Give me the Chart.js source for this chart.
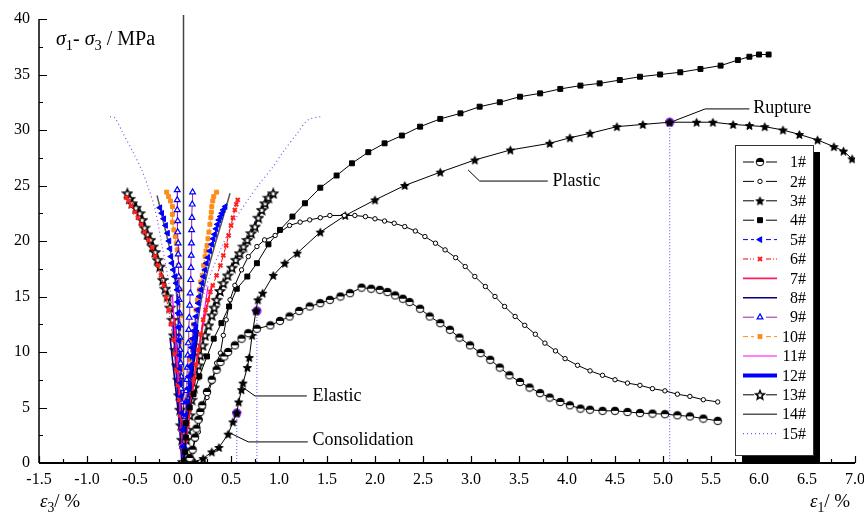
<!DOCTYPE html>
<html>
<head>
<meta charset="utf-8">
<script src="https://cdn.jsdelivr.net/npm/chart.js@4.4.0/dist/chart.umd.min.js"></script>
<style>
  html, body { margin: 0; padding: 0; background: #fff; }
</style>
</head>
<body>
<canvas id="chart" width="864" height="519"></canvas>
<script>
// stress-strain curves, eps3 on the left (negative), eps1 on the right

const X_MIN = -1.5, X_MAX = 7.0, X_STEP = 0.5;
const Y_MIN = 0, Y_MAX = 40, Y_STEP = 5;
const labels = ['1#','2#','3#','4#','5#','6#','7#','8#','9#','10#','11#','12#','13#','14#','15#'];

// 1# - 4#: axial branch only
const s1 = [[0.03,0.1],[0.07,0.45],[0.1,1.2],[0.125,2.3],[0.14,3.1],[0.16,3.9],[0.18,4.6],[0.2,5.2],[0.25,6.4],[0.3,7.5],[0.35,8.4],[0.39,9.1],[0.43,9.6],[0.47,10.0],[0.54,10.6],[0.61,11.2],[0.68,11.7],[0.77,12.1],[0.91,12.4],[1.01,12.8],[1.11,13.2],[1.21,13.7],[1.32,14.1],[1.43,14.4],[1.53,14.7],[1.64,15.0],[1.74,15.3],[1.86,15.8],[1.96,15.7],[2.05,15.6],[2.13,15.4],[2.21,15.1],[2.29,14.8],[2.36,14.5],[2.47,13.9],[2.57,13.2],[2.68,12.6],[2.78,12.0],[2.88,11.3],[2.99,10.6],[3.1,9.9],[3.2,9.3],[3.3,8.6],[3.4,7.9],[3.51,7.3],[3.61,6.8],[3.72,6.3],[3.82,5.9],[3.93,5.5],[4.03,5.2],[4.14,4.9],[4.24,4.8],[4.37,4.7],[4.5,4.7],[4.63,4.6],[4.76,4.5],[4.89,4.45],[5.02,4.4],[5.15,4.3],[5.28,4.2],[5.42,4.0],[5.57,3.8]];
const s2 = [[0.03,0.3],[0.1,1.0],[0.125,2.1],[0.16,2.8],[0.18,3.9],[0.21,5.0],[0.25,5.9],[0.3,7.3],[0.35,9.0],[0.39,9.9],[0.42,11.5],[0.45,12.9],[0.49,14.7],[0.54,16.0],[0.61,17.4],[0.68,18.6],[0.77,19.5],[0.85,20.1],[0.96,20.5],[1.11,21.4],[1.22,21.7],[1.32,21.9],[1.43,22.1],[1.53,22.3],[1.68,22.3],[1.79,22.3],[1.9,22.2],[2.0,22.0],[2.1,21.8],[2.2,21.6],[2.31,21.3],[2.42,20.9],[2.52,20.4],[2.63,19.8],[2.73,19.2],[2.84,18.5],[2.94,17.7],[3.04,16.8],[3.15,15.9],[3.25,15.0],[3.35,14.1],[3.46,13.2],[3.56,12.4],[3.67,11.6],[3.77,10.8],[3.88,10.1],[3.98,9.4],[4.11,8.8],[4.24,8.3],[4.37,7.9],[4.5,7.5],[4.63,7.2],[4.76,7.0],[4.89,6.7],[5.02,6.5],[5.15,6.2],[5.28,6.0],[5.42,5.7],[5.57,5.5]];
const s3 = [[0.12,0.1],[0.21,0.4],[0.3,1.0],[0.375,1.4],[0.47,2.6],[0.52,3.7],[0.56,4.5],[0.58,5.5],[0.61,6.6],[0.625,7.2],[0.67,8.6],[0.69,9.5],[0.72,11.5],[0.76,13.7],[0.78,14.7],[0.83,15.3],[0.94,16.9],[1.06,18.0],[1.19,18.9],[1.43,20.8],[1.69,22.3],[2.0,23.7],[2.31,25.0],[2.68,26.2],[3.04,27.3],[3.41,28.2],[3.82,28.8],[4.03,29.3],[4.24,29.7],[4.52,30.3],[4.79,30.5],[5.07,30.7],[5.35,30.7],[5.52,30.7],[5.73,30.5],[5.9,30.4],[6.06,30.3],[6.25,30.0],[6.42,29.6],[6.61,29.1],[6.78,28.5],[6.88,28.1],[6.97,27.4]];
const s4 = [[0.01,0.2],[0.02,1.0],[0.03,2.3],[0.03,3.6],[0.07,5.0],[0.11,6.2],[0.17,7.8],[0.25,9.6],[0.32,11.2],[0.4,12.6],[0.48,14.1],[0.56,15.7],[0.67,16.8],[0.77,18.0],[0.89,19.7],[1.01,21.0],[1.14,22.2],[1.27,23.4],[1.43,24.8],[1.6,25.9],[1.76,27.0],[1.93,28.0],[2.1,28.8],[2.28,29.5],[2.47,30.3],[2.68,31.0],[2.89,31.5],[3.09,32.1],[3.3,32.5],[3.51,33.0],[3.72,33.3],[3.93,33.7],[4.14,34.0],[4.34,34.2],[4.55,34.5],[4.76,34.8],[4.97,35.0],[5.18,35.2],[5.39,35.5],[5.6,35.8],[5.78,36.3],[5.9,36.6],[6.0,36.8],[6.1,36.8]];

// 5# - 15#: lateral branch (top -> origin) and axial branch (origin -> top)
const s5L = [[-0.24,23.0],[-0.22,22.5],[-0.2,22.0],[-0.18,21.4],[-0.16,20.7],[-0.145,20.0],[-0.135,19.3],[-0.125,18.6],[-0.115,18.0],[-0.1,17.4],[-0.085,16.8],[-0.07,16.2],[-0.06,15.6],[-0.055,14.5],[-0.05,13.5],[-0.045,12.2],[-0.04,11.0],[-0.035,9.7],[-0.03,8.5],[-0.025,7.2],[-0.02,6.0],[-0.015,4.5],[-0.01,3.0],[-0.005,1.5],[0,0]];
const s5R = [[0.01,1.5],[0.02,3.0],[0.03,4.3],[0.04,5.5],[0.05,6.7],[0.06,7.8],[0.07,8.7],[0.08,9.6],[0.09,10.4],[0.1,11.2],[0.11,11.9],[0.12,12.5],[0.135,13.2],[0.15,13.8],[0.16,14.4],[0.17,15.0],[0.185,15.6],[0.2,16.2],[0.215,16.8],[0.23,17.4],[0.245,18.0],[0.26,18.5],[0.28,19.1],[0.3,19.7],[0.315,20.2],[0.33,20.6],[0.345,21.1],[0.36,21.5],[0.375,21.9],[0.39,22.2],[0.405,22.5],[0.42,22.8],[0.44,23.1]];
const s6L = [[-0.59,23.9],[-0.565,23.6],[-0.54,23.2],[-0.5,22.6],[-0.47,22.1],[-0.435,21.5],[-0.4,20.8],[-0.36,20.1],[-0.32,19.4],[-0.29,18.6],[-0.26,17.8],[-0.23,16.9],[-0.2,16.0],[-0.175,14.9],[-0.15,13.8],[-0.125,12.5],[-0.1,11.1],[-0.085,9.8],[-0.07,8.4],[-0.055,7.0],[-0.04,5.7],[-0.03,4.3],[-0.02,3.0],[-0.01,1.5],[0,0]];
const s6R = [[0.015,1.0],[0.03,2.1],[0.05,3.5],[0.07,4.8],[0.09,6.2],[0.11,7.5],[0.135,8.9],[0.16,10.2],[0.185,11.6],[0.21,12.9],[0.235,13.8],[0.26,14.7],[0.285,15.4],[0.31,16.0],[0.35,16.9],[0.39,17.8],[0.42,18.7],[0.45,19.6],[0.475,20.5],[0.5,21.4],[0.52,22.1],[0.54,22.8],[0.555,23.3],[0.57,23.7]];
const s7L = [[-0.09,13.0],[-0.05,8.0],[-0.02,3.5],[0,0]];
const s7R = [[0.06,4.0],[0.13,8.5],[0.21,12.5],[0.3,16.0]];
const s8L = [[-0.135,11.3],[-0.08,7.0],[-0.03,3.0],[0,0]];
const s8R = [[0.05,4.0],[0.1,8.0],[0.16,12.0]];
const s9L = [[-0.06,24.6],[-0.06,23.7],[-0.06,22.8],[-0.055,21.8],[-0.055,20.8],[-0.05,19.8],[-0.05,18.8],[-0.045,17.8],[-0.045,16.8],[-0.04,15.7],[-0.04,14.7],[-0.035,13.5],[-0.035,12.4],[-0.03,11.3],[-0.03,10.2],[-0.025,9.0],[-0.02,7.8],[-0.02,6.7],[-0.015,5.5],[-0.01,4.2],[-0.01,3.0],[-0.005,1.5],[0,0]];
const s9R = [[0.01,1.5],[0.02,3.0],[0.025,4.2],[0.03,5.5],[0.035,6.5],[0.04,7.5],[0.045,8.6],[0.05,9.7],[0.055,10.8],[0.06,12.0],[0.065,13.1],[0.07,14.2],[0.075,15.3],[0.08,16.5],[0.083,17.6],[0.086,18.7],[0.088,19.8],[0.09,21.0],[0.093,22.1],[0.096,23.3],[0.1,24.4]];
const s10L = [[-0.17,24.4],[-0.15,24.0],[-0.13,23.6],[-0.11,23.1],[-0.11,22.4],[-0.11,21.7],[-0.095,21.0],[-0.08,20.4],[-0.07,19.8],[-0.06,19.2],[-0.05,17.8],[-0.04,16.7],[-0.03,15.6],[-0.025,13.3],[-0.02,11.1],[-0.015,8.4],[-0.01,5.7],[-0.005,2.8],[0,0]];
const s10R = [[0.01,2.0],[0.02,3.9],[0.035,5.7],[0.05,7.5],[0.07,9.3],[0.09,11.1],[0.11,12.5],[0.135,13.8],[0.15,14.7],[0.17,15.6],[0.185,16.3],[0.2,16.9],[0.215,17.8],[0.23,18.6],[0.24,19.1],[0.25,19.6],[0.26,20.2],[0.27,20.8],[0.28,21.5],[0.29,22.1],[0.295,22.6],[0.3,23.1],[0.31,23.6],[0.32,24.0],[0.35,24.4]];
const s11L = [[-0.11,15.1],[-0.07,10.0],[-0.03,4.5],[0,0]];
const s11R = [[0.07,4.5],[0.15,9.5],[0.26,15.9]];
const s12L = [[-0.09,12.5],[-0.05,7.0],[-0.02,3.0],[0,0]];
const s12R = [[0.04,4.0],[0.09,8.5],[0.14,12.5]];
const s13L = [[-0.58,24.3],[-0.555,23.8],[-0.53,23.4],[-0.49,23.0],[-0.45,22.5],[-0.425,21.9],[-0.4,21.2],[-0.37,20.6],[-0.34,20.1],[-0.315,19.5],[-0.29,19.0],[-0.265,18.3],[-0.24,17.7],[-0.21,16.5],[-0.185,15.7],[-0.16,15.0],[-0.135,14.0],[-0.11,12.9],[-0.095,11.5],[-0.08,10.2],[-0.065,8.8],[-0.05,7.5],[-0.04,6.1],[-0.03,4.8],[-0.02,3.4],[-0.01,2.1],[0,0.1]];
const s13R = [[0.02,1.2],[0.035,2.1],[0.05,3.0],[0.07,4.3],[0.09,5.7],[0.115,6.8],[0.14,7.9],[0.16,8.8],[0.18,9.7],[0.205,10.6],[0.23,11.5],[0.265,12.4],[0.3,13.3],[0.325,14.0],[0.35,14.7],[0.385,15.5],[0.42,16.2],[0.465,16.9],[0.51,17.6],[0.55,18.3],[0.59,18.9],[0.63,19.5],[0.67,20.1],[0.71,20.7],[0.75,21.3],[0.785,22.1],[0.82,22.8],[0.855,23.4],[0.89,23.9],[0.94,24.3]];
const s14L = [[-0.27,24.1],[-0.22,22.3],[-0.17,20.5],[-0.11,18.3],[-0.07,15.6],[-0.04,11.1],[-0.02,5.7],[0,0]];
const s14R = [[0.03,3.9],[0.07,7.5],[0.125,11.1],[0.19,14.7],[0.26,17.4],[0.33,19.6],[0.41,21.9],[0.49,24.3]];
const s15L = [[-0.76,31.2],[-0.71,31.1],[-0.625,29.7],[-0.52,28.0],[-0.43,26.4],[-0.36,24.8],[-0.29,22.8],[-0.21,19.2],[-0.135,15.6],[-0.07,11.1],[-0.03,5.7],[0,0]];
const s15R = [[0.03,5.7],[0.1,11.1],[0.23,15.6],[0.39,19.2],[0.54,21.9],[0.7,24.0],[0.8,25.2],[0.93,26.6],[1.04,28.0],[1.19,29.7],[1.3,30.9],[1.43,31.2]];

// marked points and the stage notes
const stagePts = [[0.56,4.5],[0.77,13.7],[5.07,30.7]];
const notes = [
  { text: 'Rupture', at: [5.94,32.0], lead: [[5.08,30.7],[5.44,31.9],[5.9,31.9]] },
  { text: 'Plastic', at: [3.85,25.4], lead: [[2.97,26.4],[3.09,25.4],[3.8,25.4]] },
  { text: 'Elastic', at: [1.35,6.04], lead: [[0.625,6.8],[0.75,6.04],[1.29,6.04]] },
  { text: 'Consolidation', at: [1.35,2.07], lead: [[0.49,2.7],[0.68,1.9],[1.3,1.9]] }
];

const pts = a => a.map(p => ({ x: p[0], y: p[1] }));
const both = (L, R) => pts(L.concat(R));

// marker pictures the library has no built-in for
function starPic(r, filled) {
  const s = Math.ceil(r * 2 + 2);
  const c = document.createElement('canvas');
  c.width = s; c.height = s;
  const g = c.getContext('2d');
  g.beginPath();
  for (let i = 0; i < 10; i++) {
    const rr = i % 2 ? r * 0.45 : r;
    const a = -Math.PI / 2 + i * Math.PI / 5;
    const px = s / 2 + rr * Math.cos(a), py = s / 2 + 0.5 + rr * Math.sin(a);
    if (i) g.lineTo(px, py); else g.moveTo(px, py);
  }
  g.closePath();
  g.fillStyle = filled ? '#000' : '#fff';
  g.fill();
  g.lineWidth = filled ? 1 : 1.5;
  g.strokeStyle = '#000';
  g.stroke();
  return c;
}
function halfPic(r) {
  const s = Math.ceil(r * 2 + 2);
  const c = document.createElement('canvas');
  c.width = s; c.height = s;
  const g = c.getContext('2d');
  g.beginPath(); g.arc(s / 2, s / 2, r, 0, Math.PI * 2);
  g.fillStyle = '#fff'; g.fill();
  g.beginPath(); g.arc(s / 2, s / 2, r, Math.PI, Math.PI * 2); g.closePath();
  g.fillStyle = '#000'; g.fill();
  g.beginPath(); g.arc(s / 2, s / 2, r, 0, Math.PI * 2);
  g.lineWidth = 1; g.strokeStyle = '#000'; g.stroke();
  return c;
}

function series(label, data, o) {
  return Object.assign({
    label: label, data: data, showLine: true, fill: false, tension: 0,
    borderColor: '#000', borderWidth: 1, pointRadius: 0,
    pointBackgroundColor: '#000', pointBorderColor: '#000', pointBorderWidth: 1
  }, o);
}

const datasets = [
  series(labels[0], pts(s1), { pointStyle: halfPic(3.8), pointRadius: 4 }),
  series(labels[1], pts(s2), { pointStyle: 'circle', pointRadius: 2.2, pointBackgroundColor: '#fff' }),
  series(labels[2], pts(s3), { pointStyle: starPic(4.3, true), pointRadius: 4 }),
  series(labels[3], pts(s4), { pointStyle: 'rect', pointRadius: 3.5 }),
  series(labels[4], both(s5L, s5R), { borderColor: '#0000ff', borderDash: [5, 3], pointStyle: 'triangle', pointRotation: 270, pointRadius: 3.3, pointBackgroundColor: '#0000ff', pointBorderColor: '#0000ff' }),
  series(labels[5], both(s6L, s6R), { borderColor: '#ff0000', borderDash: [5, 2, 1, 2], pointStyle: 'crossRot', pointRadius: 2.8, pointBorderWidth: 2, pointBackgroundColor: '#ff0000', pointBorderColor: '#ff2020' }),
  series(labels[6], both(s7L, s7R), { borderColor: '#ff1f5a', borderWidth: 1.6 }),
  series(labels[7], both(s8L, s8R), { borderColor: '#000080', borderWidth: 1.6 }),
  series(labels[8], both(s9L, s9R), { borderColor: '#a020a0', pointStyle: 'triangle', pointRadius: 3.3, pointBackgroundColor: '#fff', pointBorderColor: '#0000ff', pointBorderWidth: 1.2 }),
  series(labels[9], both(s10L, s10R), { borderColor: '#ff8c1a', borderDash: [5, 3], pointStyle: 'rect', pointRadius: 2.8, pointBackgroundColor: '#ff8c1a', pointBorderColor: '#ff8c1a' }),
  series(labels[10], both(s11L, s11R), { borderColor: '#ff00ff', borderWidth: 1.2 }),
  series(labels[11], both(s12L, s12R), { borderColor: '#0000ff', borderWidth: 4 }),
  series(labels[12], both(s13L, s13R), { pointStyle: starPic(4.6, false), pointRadius: 4 }),
  series(labels[13], both(s14L, s14R), { borderColor: '#555', borderWidth: 1.5 }),
  series(labels[14], both(s15L, s15R), { borderColor: '#8a4cf5', borderDash: [1, 3], borderWidth: 1.2, tension: 0.3 })
];

// dotted guides from the marked points down to the strain axis
stagePts.forEach(p => {
  datasets.push(series('', pts([p, [p[0], 0]]), { borderColor: '#4d4dff', borderDash: [1, 2], borderWidth: 1 }));
});
datasets.push({
  label: '', data: pts(stagePts), showLine: false, pointStyle: 'circle', pointRadius: 4,
  pointBackgroundColor: '#2a1a70', pointBorderColor: '#a040ff', pointBorderWidth: 1.5
});
notes.forEach(n => {
  datasets.push(series('', pts(n.lead), { borderColor: '#000', borderWidth: 1 }));
});

const SERIF = '"Liberation Serif", "Times New Roman", serif';

function rich(ctx, parts, x, y, size) {
  let cx = x;
  parts.forEach(p => {
    const fs = p.sub ? size * 0.72 : size;
    ctx.font = (p.it ? 'italic ' : '') + fs + 'px ' + SERIF;
    ctx.fillText(p.t, cx, y + (p.sub ? size * 0.32 : 0));
    cx += ctx.measureText(p.t).width;
  });
}

const framePlugin = {
  id: 'frame',
  beforeDatasetsDraw(chart) {
    const ctx = chart.ctx, a = chart.chartArea, xs = chart.scales.x;
    const x0 = Math.round(xs.getPixelForValue(0)) + 0.5;
    ctx.save();
    ctx.strokeStyle = '#444';
    ctx.lineWidth = 1.5;
    ctx.beginPath();
    ctx.moveTo(x0, a.top - 4);
    ctx.lineTo(x0, a.bottom);
    ctx.stroke();
    ctx.restore();
  },
  afterDatasetsDraw(chart) {
    const ctx = chart.ctx, a = chart.chartArea;
    const xs = chart.scales.x, ys = chart.scales.y;
    ctx.save();
    ctx.strokeStyle = '#000';
    ctx.fillStyle = '#000';

    // axes with inward ticks
    ctx.lineWidth = 1.5;
    ctx.beginPath();
    ctx.moveTo(a.left, a.top);
    ctx.lineTo(a.left, a.bottom);
    ctx.stroke();
    ctx.lineWidth = 2;
    ctx.beginPath();
    ctx.moveTo(a.left, a.bottom);
    ctx.lineTo(a.right, a.bottom);
    ctx.stroke();
    ctx.lineWidth = 1.2;
    ctx.beginPath();
    for (let v = X_MIN; v <= X_MAX + 1e-9; v += X_STEP / 2) {
      const px = Math.round(xs.getPixelForValue(v)) + 0.5;
      const major = Math.abs(v / X_STEP - Math.round(v / X_STEP)) < 1e-6;
      ctx.moveTo(px, a.bottom);
      ctx.lineTo(px, a.bottom - (major ? 7 : 4));
    }
    for (let v = Y_MIN; v <= Y_MAX + 1e-9; v += Y_STEP / 2) {
      const py = Math.round(ys.getPixelForValue(v)) + 0.5;
      const major = Math.abs(v / Y_STEP - Math.round(v / Y_STEP)) < 1e-6;
      ctx.moveTo(a.left, py);
      ctx.lineTo(a.left + (major ? 8 : 4), py);
    }
    ctx.stroke();

    // axis titles
    ctx.textAlign = 'left';
    ctx.textBaseline = 'middle';
    rich(ctx, [{ t: 'σ', it: true }, { t: '1', sub: true }, { t: '- ' }, { t: 'σ', it: true }, { t: '3', sub: true }, { t: ' / MPa' }], 56, 40, 20);
    rich(ctx, [{ t: 'ε', it: true }, { t: '3', sub: true }, { t: '/ %' }], 40, 502, 19);
    rich(ctx, [{ t: 'ε', it: true }, { t: '1', sub: true }, { t: '/ %' }], 810, 502, 19);

    // stage notes
    ctx.font = '18px ' + SERIF;
    notes.forEach(n => {
      ctx.fillText(n.text, xs.getPixelForValue(n.at[0]), ys.getPixelForValue(n.at[1]));
    });

    // legend box with drop shadow
    const L = { x: 735, y: 145, w: 78, h: 310, row: 19.4 };
    ctx.fillStyle = '#000';
    ctx.fillRect(L.x + 7, L.y + 7, L.w, L.h);
    ctx.fillStyle = '#fff';
    ctx.fillRect(L.x, L.y, L.w, L.h);
    ctx.lineWidth = 1;
    ctx.strokeStyle = '#333';
    ctx.strokeRect(L.x + 0.5, L.y + 0.5, L.w, L.h);
    for (let i = 0; i < labels.length; i++) {
      const ds = chart.data.datasets[i];
      const cy = L.y + 17 + i * L.row;
      const x1 = L.x + 8, x2 = L.x + 42, cx = (x1 + x2) / 2;
      ctx.save();
      ctx.strokeStyle = ds.borderColor;
      ctx.lineWidth = ds.borderWidth;
      ctx.setLineDash(ds.borderDash || []);
      ctx.beginPath();
      if (ds.pointRadius > 0) {
        ctx.moveTo(x1, cy); ctx.lineTo(cx - 6, cy);
        ctx.moveTo(cx + 6, cy); ctx.lineTo(x2, cy);
      } else {
        ctx.moveTo(x1, cy); ctx.lineTo(x2, cy);
      }
      ctx.stroke();
      ctx.setLineDash([]);
      if (ds.pointRadius > 0) {
        ctx.fillStyle = ds.pointBackgroundColor;
        ctx.strokeStyle = ds.pointBorderColor;
        ctx.lineWidth = ds.pointBorderWidth;
        Chart.helpers.drawPoint(ctx, {
          pointStyle: ds.pointStyle, radius: Math.min(ds.pointRadius, 3.5),
          borderWidth: ds.pointBorderWidth, rotation: ds.pointRotation || 0
        }, cx, cy);
      }
      ctx.restore();
      ctx.fillStyle = '#000';
      ctx.textAlign = 'right';
      ctx.font = '16px ' + SERIF;
      ctx.fillText(labels[i], L.x + 71, cy + 1);
    }
    ctx.restore();
  }
};

new Chart(document.getElementById('chart'), {
  type: 'scatter',
  data: { datasets: datasets },
  options: {
    responsive: false,
    animation: false,
    events: [],
    layout: { padding: { top: 19, right: 9, left: 0, bottom: 0 } },
    plugins: { legend: { display: false }, tooltip: { enabled: false } },
    scales: {
      x: {
        type: 'linear', min: X_MIN, max: X_MAX,
        grid: { display: false, drawTicks: false },
        border: { display: false },
        ticks: {
          stepSize: X_STEP, padding: 7, color: '#000', maxRotation: 0, autoSkip: false,
          font: { family: SERIF, size: 16 },
          callback: v => Number(v).toFixed(1)
        },
        afterFit: s => { s.height = 56; s.paddingLeft = 0; s.paddingRight = 0; }
      },
      y: {
        type: 'linear', min: Y_MIN, max: Y_MAX,
        grid: { display: false, drawTicks: false },
        border: { display: false },
        ticks: {
          stepSize: Y_STEP, padding: 9, color: '#000',
          font: { family: SERIF, size: 16 }
        },
        afterFit: s => { s.width = 39; s.paddingTop = 0; s.paddingBottom = 0; }
      }
    }
  },
  plugins: [framePlugin]
});
</script>
</body>
</html>
